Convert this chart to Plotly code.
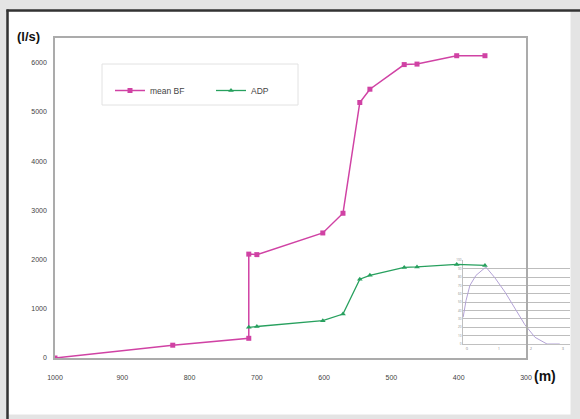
import plotly.graph_objects as go

W, H = 580, 419

# Main series: discharge versus distance
bf_dist = [1000, 825, 712, 712, 700, 602, 572, 547, 532, 481, 462, 403, 361]
bf_flow = [0, 260, 400, 2110, 2100, 2540, 2940, 5190, 5460, 5960, 5970, 6140, 6140]

adp_dist = [712, 700, 602, 572, 547, 532, 481, 462, 403, 361]
adp_flow = [623, 640, 757, 892, 1600, 1680, 1840, 1850, 1900, 1880]

x_ticks = [1000, 900, 800, 700, 600, 500, 400, 300]
y_ticks = [0, 1000, 2000, 3000, 4000, 5000, 6000]

# Small inset curve
inset_x = [-0.12, -0.03, 0.09, 0.28, 0.59, 0.875, 1.19, 1.5, 1.81, 2.125, 2.5, 2.9]
inset_y = [32, 52, 70, 82, 92, 79, 62, 43, 23, 8, 0, 0]
inset_xticks = [0, 1, 2, 3]


def px(v):
    return v / W


def py(v):
    return 1 - v / H


MAGENTA = "#d042a4"
GREEN = "#27a05e"
FONT = "Liberation Sans, Arial, sans-serif"
tick_font = dict(family=FONT, size=7, color="#444444")

fig = go.Figure()

# inset (drawn first so the main chart sits above it)
fig.add_trace(go.Scatter(
    x=inset_x, y=inset_y, mode="lines",
    line=dict(color="#b3a2d6", width=1),
    xaxis="x", yaxis="y", showlegend=False, hoverinfo="skip",
))

fig.add_trace(go.Scatter(
    x=bf_dist, y=bf_flow, name="mean BF", mode="lines+markers",
    line=dict(color=MAGENTA, width=1.5),
    marker=dict(symbol="square", size=5, color=MAGENTA),
    xaxis="x2", yaxis="y2",
))
fig.add_trace(go.Scatter(
    x=adp_dist, y=adp_flow, name="ADP", mode="lines+markers",
    line=dict(color=GREEN, width=1.3),
    marker=dict(symbol="triangle-up", size=5, color=GREEN),
    xaxis="x2", yaxis="y2",
))

shapes = [
    # white panel
    dict(type="rect", xref="paper", yref="paper",
         x0=px(8), x1=px(571), y0=py(415), y1=py(11),
         fillcolor="white", line=dict(color="#e4e4e4", width=1), layer="below"),
    # dark frame edges
    dict(type="line", xref="paper", yref="paper",
         x0=px(6.5), x1=1, y0=py(10.5), y1=py(10.5),
         line=dict(color="#333333", width=2.5), layer="below"),
    dict(type="line", xref="paper", yref="paper",
         x0=px(7.5), x1=px(7.5), y0=py(9.5), y1=0,
         line=dict(color="#333333", width=2.5), layer="below"),
    # legend box
    dict(type="rect", xref="paper", yref="paper",
         x0=px(102), x1=px(298), y0=py(105), y1=py(64),
         fillcolor="white", line=dict(color="#e2e2e2", width=1), layer="below"),
]

annotations = [
    dict(text="<b>(l/s)</b>", x=px(28), y=py(37), xref="paper", yref="paper",
         xanchor="center", yanchor="middle", showarrow=False,
         font=dict(family=FONT, size=13, color="#111111")),
    dict(text="<b>(m)</b>", x=px(545), y=py(376), xref="paper", yref="paper",
         xanchor="center", yanchor="middle", showarrow=False,
         font=dict(family=FONT, size=14, color="#111111")),
]

fig.update_layout(
    width=W, height=H,
    margin=dict(l=0, r=0, t=0, b=0, pad=0, autoexpand=False),
    paper_bgcolor="#e4e4e4",
    plot_bgcolor="rgba(0,0,0,0)",
    shapes=shapes,
    annotations=annotations,
    showlegend=True,
    legend=dict(
        orientation="h", x=px(110), y=py(76), xanchor="left", yanchor="top",
        bgcolor="rgba(0,0,0,0)", borderwidth=0,
        font=dict(family=FONT, size=8.5, color="#444444"),
        entrywidth=56, entrywidthmode="pixels", itemwidth=30,
    ),
    # inset axes
    xaxis=dict(
        domain=[px(463), px(570)], range=[-0.125, 3.22], anchor="y",
        tickvals=inset_xticks, showgrid=False, zeroline=False,
        showline=True, linecolor="#c0c0c0", linewidth=1,
        ticks="", tickfont=dict(size=4, color="#888888"), fixedrange=True,
        automargin=False,
    ),
    yaxis=dict(
        domain=[py(344), py(259.5)], range=[0, 101], anchor="x",
        dtick=10, showgrid=True, gridcolor="#bdbdbd", gridwidth=0.9,
        zeroline=False, showline=True, linecolor="#c0c0c0", linewidth=1,
        ticks="", tickfont=dict(size=3, color="#888888"), fixedrange=True,
        automargin=False,
    ),
    # main axes
    xaxis2=dict(
        domain=[px(55), px(526)], range=[1000, 300], anchor="y2",
        tickvals=x_ticks, showgrid=False, zeroline=False,
        showline=True, mirror=True, linecolor="#ababab", linewidth=1.5,
        ticks="outside", ticklen=12, tickcolor="rgba(0,0,0,0)",
        tickfont=tick_font, automargin=False,
    ),
    yaxis2=dict(
        domain=[py(358), py(38)], range=[0, 6500], anchor="x2",
        tickvals=y_ticks, showgrid=False, zeroline=False,
        showline=True, mirror=True, linecolor="#ababab", linewidth=1.5,
        ticks="outside", ticklen=5, tickcolor="rgba(0,0,0,0)",
        tickfont=tick_font, automargin=False,
    ),
)

fig.write_html("out.html")
